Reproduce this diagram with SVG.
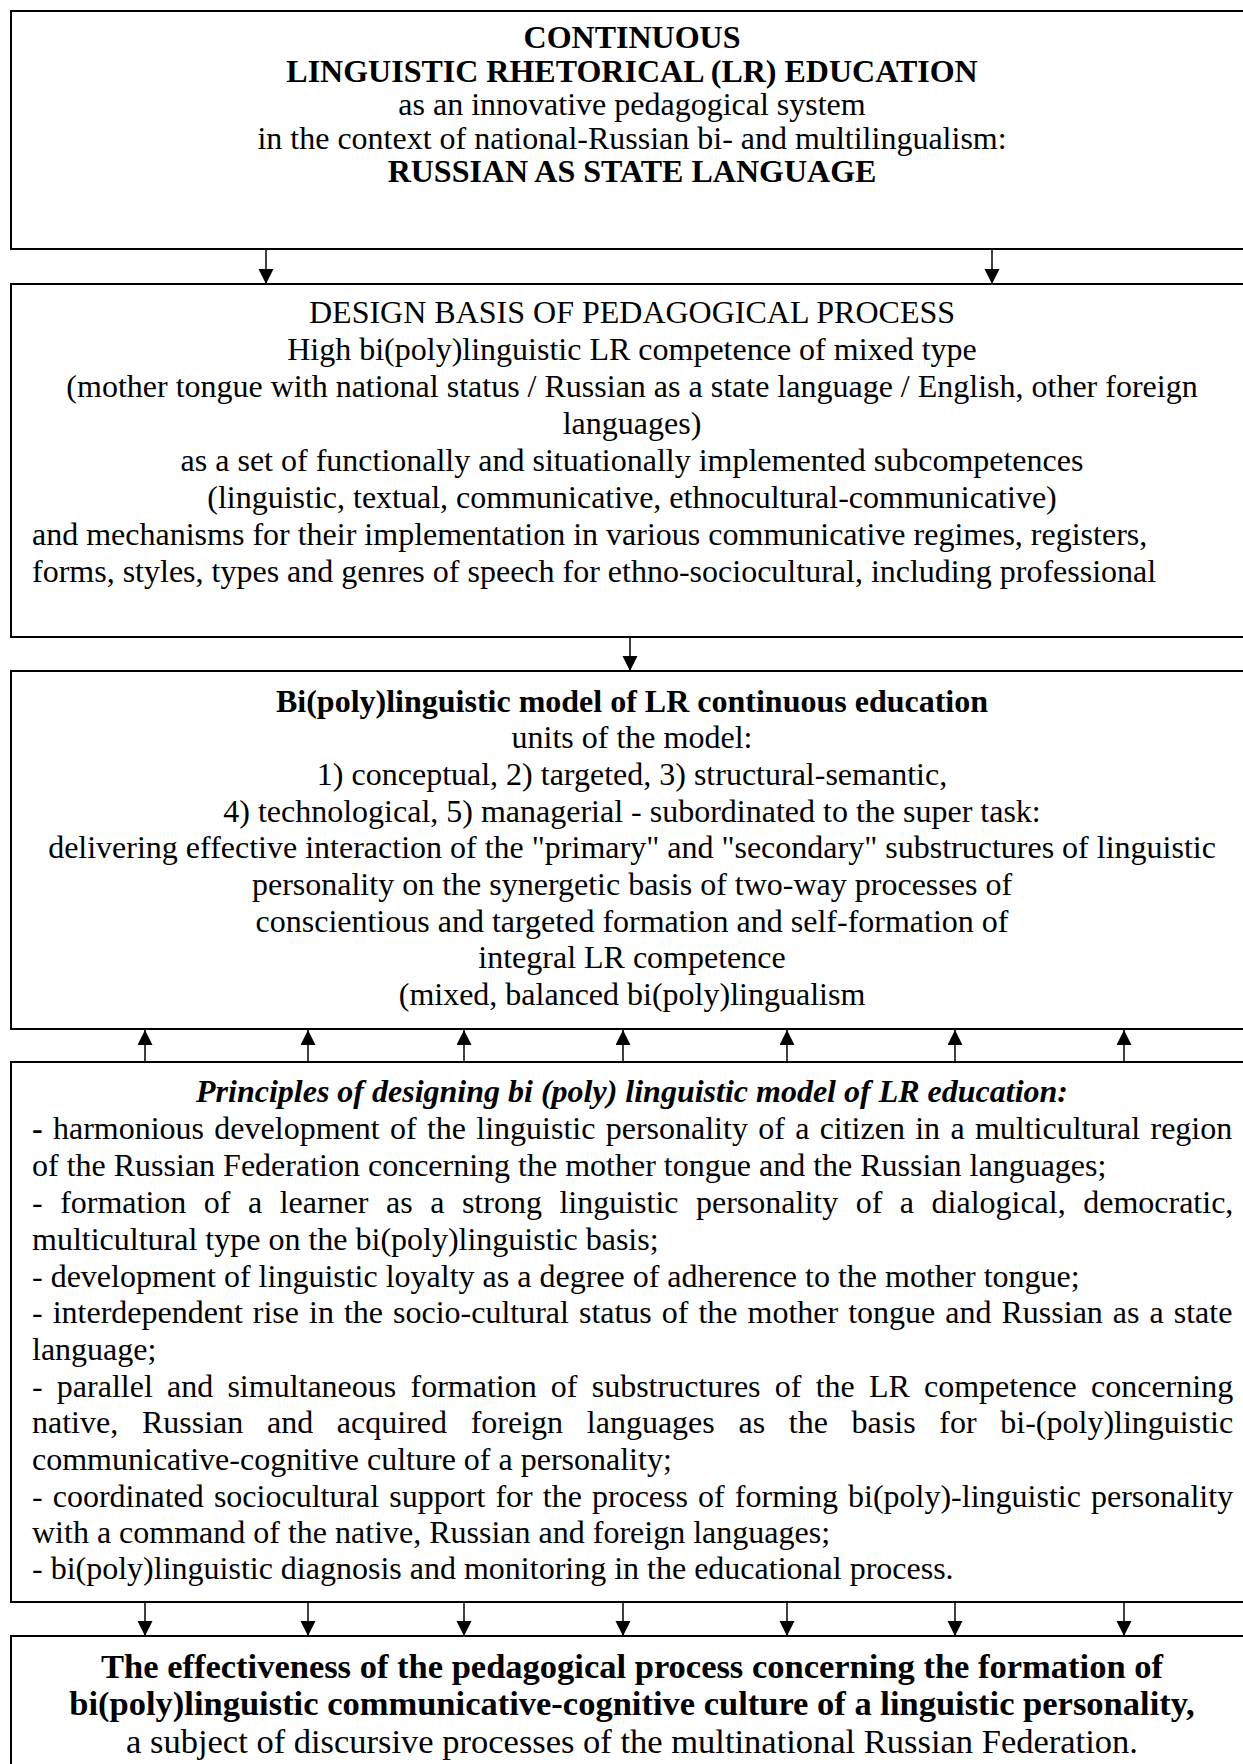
<svg xmlns="http://www.w3.org/2000/svg" width="1243" height="1764" viewBox="0 0 1243 1764">
<defs>
<style>
.box{fill:#fff;stroke:#000;stroke-width:2}
text{font-family:"Liberation Serif","Times New Roman",serif;font-size:32px;fill:#000}
.c{text-anchor:middle}
.b{font-weight:bold}
.bi{font-weight:bold;font-style:italic}
.big{font-size:34.5px}
.con{stroke:#000;stroke-width:1.5;fill:none}
</style>
<marker id="ah" markerUnits="userSpaceOnUse" markerWidth="16" markerHeight="16" refX="15" refY="7.5" orient="auto">
<path d="M0,0 L15,7.5 L0,15 z" fill="#000"/>
</marker>
</defs>
<rect width="1243" height="1764" fill="#fff"/>
<g id="connectors">
<line class="con" x1="266" y1="250" x2="266" y2="284" marker-end="url(#ah)"/>
<line class="con" x1="992" y1="250" x2="992" y2="284" marker-end="url(#ah)"/>
<line class="con" x1="630" y1="638" x2="630" y2="671" marker-end="url(#ah)"/>
<line class="con" x1="145" y1="1062" x2="145" y2="1030" marker-end="url(#ah)"/>
<line class="con" x1="308" y1="1062" x2="308" y2="1030" marker-end="url(#ah)"/>
<line class="con" x1="464" y1="1062" x2="464" y2="1030" marker-end="url(#ah)"/>
<line class="con" x1="623" y1="1062" x2="623" y2="1030" marker-end="url(#ah)"/>
<line class="con" x1="787" y1="1062" x2="787" y2="1030" marker-end="url(#ah)"/>
<line class="con" x1="955" y1="1062" x2="955" y2="1030" marker-end="url(#ah)"/>
<line class="con" x1="1124" y1="1062" x2="1124" y2="1030" marker-end="url(#ah)"/>
<line class="con" x1="145" y1="1603" x2="145" y2="1636" marker-end="url(#ah)"/>
<line class="con" x1="308" y1="1603" x2="308" y2="1636" marker-end="url(#ah)"/>
<line class="con" x1="464" y1="1603" x2="464" y2="1636" marker-end="url(#ah)"/>
<line class="con" x1="623" y1="1603" x2="623" y2="1636" marker-end="url(#ah)"/>
<line class="con" x1="787" y1="1603" x2="787" y2="1636" marker-end="url(#ah)"/>
<line class="con" x1="955" y1="1603" x2="955" y2="1636" marker-end="url(#ah)"/>
<line class="con" x1="1124" y1="1603" x2="1124" y2="1636" marker-end="url(#ah)"/>
</g>
<g id="node-lr-education">
<rect class="box" x="11" y="11" width="1250" height="238"/>
<text class="c b" x="632" y="48">CONTINUOUS</text>
<text class="c b" x="632" y="82">LINGUISTIC RHETORICAL (LR) EDUCATION</text>
<text class="c" x="632" y="115">as an innovative pedagogical system</text>
<text class="c" x="632" y="149">in the context of national-Russian bi- and multilingualism:</text>
<text class="c b" x="632" y="182">RUSSIAN AS STATE LANGUAGE</text>
</g>
<g id="node-design-basis">
<rect class="box" x="11" y="284" width="1250" height="353"/>
<text class="c" x="632" y="323">DESIGN BASIS OF PEDAGOGICAL PROCESS</text>
<text class="c" x="632" y="360">High bi(poly)linguistic LR competence of mixed type</text>
<text class="c" x="632" y="397">(mother tongue with national status / Russian as a state language / English, other foreign</text>
<text class="c" x="632" y="434">languages)</text>
<text class="c" x="632" y="471">as a set of functionally and situationally implemented subcompetences</text>
<text class="c" x="632" y="508">(linguistic, textual, communicative, ethnocultural-communicative)</text>
<text x="32" y="545">and mechanisms for their implementation in various communicative regimes, registers,</text>
<text x="32" y="582">forms, styles, types and genres of speech for ethno-sociocultural, including professional</text>
</g>
<g id="node-model">
<rect class="box" x="11" y="671" width="1250" height="358"/>
<text class="c b" x="632" y="712">Bi(poly)linguistic model of LR continuous education</text>
<text class="c" x="632" y="748">units of the model:</text>
<text class="c" x="632" y="785">1) conceptual, 2) targeted, 3) structural-semantic,</text>
<text class="c" x="632" y="822">4) technological, 5) managerial - subordinated to the super task:</text>
<text class="c" x="632" y="858">delivering effective interaction of the "primary" and "secondary" substructures of linguistic</text>
<text class="c" x="632" y="895">personality on the synergetic basis of two-way processes of</text>
<text class="c" x="632" y="932">conscientious and targeted formation and self-formation of</text>
<text class="c" x="632" y="968">integral LR competence</text>
<text class="c" x="632" y="1005">(mixed, balanced bi(poly)lingualism</text>
</g>
<g id="node-principles">
<rect class="box" x="11" y="1062" width="1250" height="540"/>
<text class="c bi" x="632" y="1102">Principles of designing bi (poly) linguistic model of LR education:</text>
<text x="32" y="1139" word-spacing="2.3"><tspan class="b">-</tspan> harmonious development of the linguistic personality of a citizen in a multicultural region</text>
<text x="32" y="1176">of the Russian Federation concerning the mother tongue and the Russian languages;</text>
<text x="32" y="1213" word-spacing="9.5">- formation of a learner as a strong linguistic personality of a dialogical, democratic,</text>
<text x="32" y="1250">multicultural type on the bi(poly)linguistic basis;</text>
<text x="32" y="1287">- development of linguistic loyalty as a degree of adherence to the mother tongue;</text>
<text x="32" y="1323" word-spacing="2.0">- interdependent rise in the socio-cultural status of the mother tongue and Russian as a state</text>
<text x="32" y="1360">language;</text>
<text x="32" y="1397" word-spacing="6.2">- parallel and simultaneous formation of substructures of the LR competence concerning</text>
<text x="32" y="1433" word-spacing="15.7">native, Russian and acquired foreign languages as the basis for bi-(poly)linguistic</text>
<text x="32" y="1470">communicative-cognitive culture of a personality;</text>
<text x="32" y="1507" word-spacing="2.1">- coordinated sociocultural support for the process of forming bi(poly)-linguistic personality</text>
<text x="32" y="1543">with a command of the native, Russian and foreign languages;</text>
<text x="32" y="1579">- bi(poly)linguistic diagnosis and monitoring in the educational process.</text>
</g>
<g id="node-effectiveness">
<rect class="box" x="11" y="1636" width="1250" height="200"/>
<text class="c b big" x="632" y="1678">The effectiveness of the pedagogical process concerning the formation of</text>
<text class="c b big" x="632" y="1715">bi(poly)linguistic communicative-cognitive culture of a linguistic personality,</text>
<text class="c big" x="632" y="1753">a subject of discursive processes of the multinational Russian Federation.</text>
</g>
</svg>
